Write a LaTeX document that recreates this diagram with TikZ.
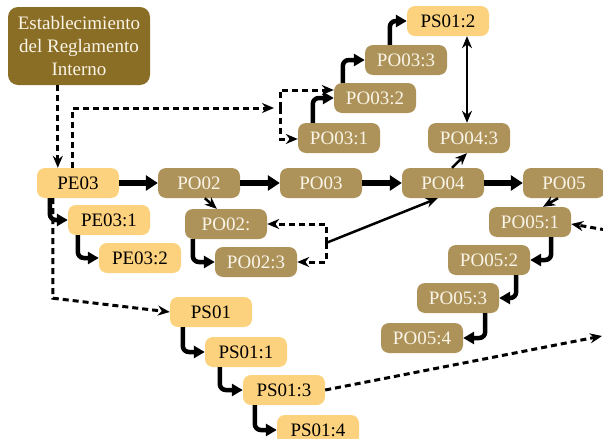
\documentclass[tikz,border=0pt]{standalone}
\usepackage{fontspec}
\setmainfont{Liberation Serif}
\usetikzlibrary{arrows.meta,calc}
\definecolor{titlebrown}{HTML}{8B6E25}
\definecolor{tanbox}{HTML}{AD935A}
\definecolor{sandbox}{HTML}{FDD27E}
\definecolor{cream}{HTML}{FAF5E8}
\begin{document}
\begin{tikzpicture}[x=1pt,y=-1pt,
  box/.style={rounded corners=8pt, minimum width=82pt, minimum height=30pt,
    inner sep=0pt, font=\fontsize{19}{22}\selectfont},
  po/.style={box, fill=tanbox, text=cream},
  pe/.style={box, fill=sandbox, text=black},
  mainflow/.style={line width=6.5pt, -{Triangle[length=12pt,width=15pt]}},
  stepflow/.style={line width=4.5pt, rounded corners=6pt, -{Triangle[length=11pt,width=12pt]}},
  link/.style={line width=2.5pt, -{Stealth[length=12pt,width=10pt]}},
  dlink/.style={line width=3pt, dash pattern=on 6pt off 4pt, -{Stealth[length=12pt,width=10pt]}},
]
\useasboundingbox (0,0) rectangle (603,439);

% heading box
\node[fill=titlebrown, text=cream, rounded corners=10pt, minimum width=142pt,
  minimum height=78pt, inner sep=0pt, align=center,
  font=\fontsize{19}{23.5}\selectfont] (title) at (79,46)
  {Establecimiento\\del Reglamento\\Interno};

% main row
\node[pe] (PE03) at (78,183) {PE03};
\node[po] (PO02) at (199,183) {PO02};
\node[po] (PO03) at (321,183) {PO03};
\node[po] (PO04) at (443,183) {PO04};
\node[po] (PO05) at (564,183) {PO05};

% PE03 steps
\node[pe] (PE031) at (109,220) {PE03:1};
\node[pe] (PE032) at (140,258) {PE03:2};

% PO02 steps
\node[po] (PO02b) at (226,224) {PO02:};
\node[po] (PO023) at (256,262) {PO02:3};

% PO03 steps
\node[po] (PO031) at (339,138) {PO03:1};
\node[po] (PO032) at (375,98) {PO03:2};
\node[po] (PO033) at (406,60) {PO03:3};
\node[pe] (PS012) at (448,21) {PS01:2};

% PO04 step
\node[po] (PO043) at (469,138) {PO04:3};

% PO05 steps
\node[po] (PO051) at (530,222) {PO05:1};
\node[po] (PO052) at (489,260) {PO05:2};
\node[po] (PO053) at (458,298) {PO05:3};
\node[po] (PO054) at (422,338) {PO05:4};

% PS01 steps
\node[pe] (PS01) at (211,312) {PS01};
\node[pe] (PS011) at (246,352) {PS01:1};
\node[pe] (PS013) at (284,390) {PS01:3};
\node[pe] (PS014) at (318,430) {PS01:4};

% junction points
\coordinate (jtopin) at (274,108);
\coordinate (jtop) at (280,108);
\coordinate (jmid) at (326,243);
\coordinate (redge) at (606,230);
\coordinate (rexit) at (602,336);

% main flow
\draw[mainflow] (PE03) -- (PO02);
\draw[mainflow] (PO02) -- (PO03);
\draw[mainflow] (PO03) -- (PO04);
\draw[mainflow] (PO04) -- (PO05);

% step connectors
\draw[stepflow] ($(PE03.south west)+(13,0)$) |- (PE031.west);
\draw[stepflow] ($(PE031.south west)+(10,0)$) |- (PE032.west);
\draw[stepflow] ($(PO02b.south west)+(8,0)$) |- (PO023.west);
\draw[stepflow] ($(PO031.north west)+(15,0)$) |- (PO032.west);
\draw[stepflow] ($(PO032.north west)+(9,0)$) |- (PO033.west);
\draw[stepflow] ($(PO033.north west)+(25,0)$) |- (PS012.west);
\draw[stepflow] ($(PO051.south east)+(-20,0)$) |- (PO052.east);
\draw[stepflow] ($(PO052.south east)+(-14,0)$) |- (PO053.east);
\draw[stepflow] ($(PO053.south east)+(-14,0)$) |- (PO054.east);
\draw[stepflow] ($(PS01.south west)+(13,0)$) |- (PS011.west);
\draw[stepflow] ($(PS011.south west)+(15,0)$) |- (PS013.west);
\draw[stepflow] ($(PS013.south west)+(12,0)$) |- (PS014.west);

% thin links
\draw[link] ($(PO02.south west)+(47,0)$) -- ($(PO02b.north west)+(32,0)$);
\draw[link] ($(PO04.north)+(9,0)$) -- ($(PO043.south)+(-2,0)$);
\draw[link] ($(PO05.south)+(-6,0)$) -- ($(PO051.north)+(13,0)$);
\draw[link, {Stealth[length=12pt,width=10pt]}-{Stealth[length=12pt,width=10pt]}]
  ($(PS012.south)+(19,0)$) -- ($(PO043.north)+(-2,0)$);
\draw[link] (jmid) -- ($(PO04.south west)+(36,0)$);

% dashed links
\draw[dlink] ($(title.south west)+(50,0)$) -- ($(PE03.north west)+(21,0)$);
\draw[dlink] ($(PE03.north west)+(36,0)$) |- (jtopin);
\draw[dlink] (jtop) |- ($(PO032.west)+(0,-8)$);
\draw[dlink] (jtop) |- ($(PO031.west)+(0,1)$);
\draw[dlink] (jmid) |- (PO02b.east);
\draw[dlink] (jmid) |- (PO023.east);
\draw[dlink] ($(PE03.south west)+(16,0)$) -- ++(0,100) -- (PS01.west);
\draw[dlink] (redge) -- ($(PO051.east)+(0,2)$);
\draw[dlink] (PS013.east) -- (rexit);
\end{tikzpicture}
\end{document}
